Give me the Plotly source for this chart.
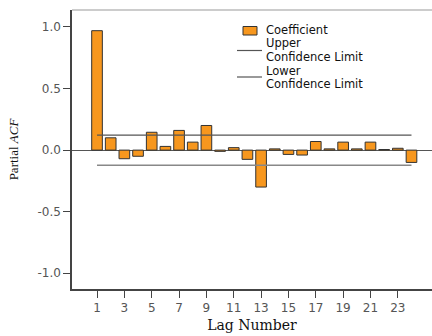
import plotly.graph_objects as go

lags = list(range(1, 25))
pacf = [0.97, 0.10, -0.07, -0.05, 0.145, 0.03, 0.16, 0.065, 0.20, -0.01,
        0.02, -0.075, -0.30, 0.01, -0.035, -0.04, 0.07, 0.01, 0.065, 0.01,
        0.065, 0.005, 0.015, -0.10]
upper = [0.122] * 24
lower = [-0.122] * 24
x_ticks = list(range(1, 24, 2))
y_ticks = [-1.0, -0.5, 0.0, 0.5, 1.0]
y_tick_labels = ["-1.0", "-0.5", "0.0", "0.5", "1.0"]

BAR_COLOR = "#F7971E"
UPPER_COLOR = "#555555"
LOWER_COLOR = "#888888"

fig = go.Figure()
fig.add_trace(go.Bar(x=lags, y=pacf, name="Coefficient", width=0.78,
                     marker=dict(color=BAR_COLOR, line=dict(color="#333333", width=1))))
fig.add_trace(go.Scatter(x=lags, y=upper, mode="lines", name="Upper Confidence Limit",
                         line=dict(color=UPPER_COLOR, width=1.2)))
fig.add_trace(go.Scatter(x=lags, y=lower, mode="lines", name="Lower Confidence Limit",
                         line=dict(color=LOWER_COLOR, width=1.5)))

# pixel helpers for the hand-drawn legend (plot area: x 72..432, y 10..289)
def px(x):
    return (x - 72) / 360.0

def py(y):
    return (289 - y) / 279.0

legend_font = dict(family="DejaVu Sans", size=11.5, color="#111111")
legend_texts = [("Coefficient", 30.5), ("Upper", 43.5), ("Confidence Limit", 57),
                ("Lower", 70.5), ("Confidence Limit", 84)]
annotations = [dict(text=t, x=px(265), y=py(yy), xref="paper", yref="paper",
                    xanchor="left", yanchor="middle", showarrow=False, font=legend_font,
                    borderpad=0)
               for t, yy in legend_texts]

shapes = [
    dict(type="line", xref="paper", yref="paper", x0=0, x1=1, y0=1, y1=1,
         line=dict(color="#cccccc", width=2)),
    dict(type="rect", xref="paper", yref="paper", x0=px(243), x1=px(257), y0=py(35), y1=py(26.5),
         fillcolor=BAR_COLOR, line=dict(color="#333333", width=1)),
    dict(type="line", xref="paper", yref="paper", x0=px(237), x1=px(262), y0=py(50.5), y1=py(50.5),
         line=dict(color=UPPER_COLOR, width=1.2)),
    dict(type="line", xref="paper", yref="paper", x0=px(237), x1=px(262), y0=py(77), y1=py(77),
         line=dict(color="#555555", width=1.2)),
]

fig.update_layout(
    width=432, height=336,
    margin=dict(l=72, r=0, t=10, b=47),
    paper_bgcolor="white", plot_bgcolor="white",
    showlegend=False,
    xaxis=dict(range=[-0.83, 25.5], tickmode="array", tickvals=x_ticks,
               ticks="outside", ticklen=7, tickcolor="#444444",
               showline=True, linecolor="#444444", linewidth=1.5,
               showgrid=False, zeroline=False,
               tickfont=dict(family="DejaVu Sans", size=12, color="#555555"),
               title=dict(text="Lag Number", font=dict(family="DejaVu Serif", size=14, color="#111111"),
                          standoff=6)),
    yaxis=dict(range=[-1.128, 1.138], tickmode="array", tickvals=y_ticks, ticktext=y_tick_labels,
               ticks="outside", ticklen=7, tickcolor="#444444",
               showline=True, linecolor="#444444", linewidth=1.5,
               showgrid=False, zeroline=True, zerolinecolor="#555555", zerolinewidth=1.2,
               tickfont=dict(family="DejaVu Sans", size=12, color="#555555"),
               title=dict(text="Partial <i>ACF</i>", font=dict(family="Liberation Serif", size=13, color="#111111"),
                          standoff=16)),
    shapes=shapes,
    annotations=annotations,
)

fig.write_html("out.html")
